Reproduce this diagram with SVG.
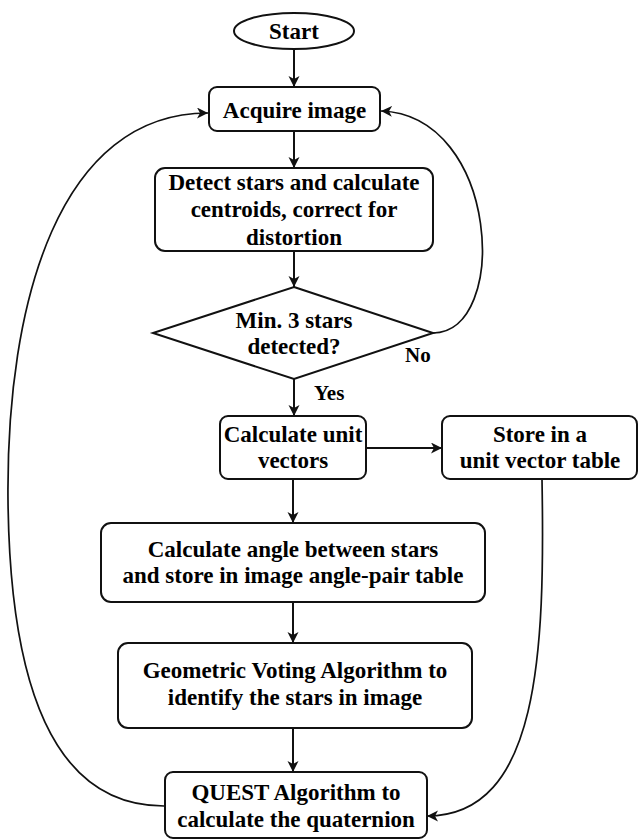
<svg xmlns="http://www.w3.org/2000/svg" width="638" height="839" viewBox="0 0 638 839">
<style>
.box{fill:#fff;stroke:#111;stroke-width:2}
.t{font-family:"Liberation Serif","Times New Roman",serif;font-weight:bold;font-size:23px;fill:#000;text-anchor:middle}
.lbl{font-family:"Liberation Serif","Times New Roman",serif;font-weight:bold;font-size:21px;fill:#000}
.c{fill:none;stroke:#111;stroke-width:2}
.cl{fill:none;stroke:#111;stroke-width:1.7}
</style>
<defs>
<marker id="ah" markerUnits="userSpaceOnUse" markerWidth="12" markerHeight="12" refX="11" refY="5.5" orient="auto">
<path d="M0,0 L11,5.5 L0,11 L3,5.5 z" fill="#111"/>
</marker>
</defs>
<g id="connectors">
<line class="c" x1="294" y1="49" x2="294" y2="87" marker-end="url(#ah)"/>
<line class="c" x1="294" y1="131" x2="294" y2="168" marker-end="url(#ah)"/>
<line class="c" x1="294" y1="251" x2="294" y2="287" marker-end="url(#ah)"/>
<line class="c" x1="294" y1="379" x2="294" y2="416" marker-end="url(#ah)"/>
<line class="c" x1="366" y1="448" x2="442" y2="448" marker-end="url(#ah)"/>
<line class="c" x1="293" y1="479" x2="293" y2="523" marker-end="url(#ah)"/>
<line class="c" x1="293" y1="602" x2="293" y2="643" marker-end="url(#ah)"/>
<line class="c" x1="293" y1="728" x2="293" y2="772" marker-end="url(#ah)"/>
<path class="cl" d="M433,333 C510,333 500,115 381,111" marker-end="url(#ah)"/>
<path class="cl" d="M164,806 C60,806 10,700 8,500 C6,300 60,113 208,113" marker-end="url(#ah)"/>
<path class="cl" d="M542,479 C545,650 540,816 427,816" marker-end="url(#ah)"/>
<text class="lbl" x="405" y="362">No</text>
<text class="lbl" x="314" y="400">Yes</text>
</g>
<g id="start">
<ellipse class="box" cx="294" cy="31" rx="60" ry="18"/>
<text class="t" x="294" y="39">Start</text>
</g>
<g id="acquire">
<rect class="box" x="209" y="87" width="171" height="44" rx="8"/>
<text class="t" x="294.5" y="118">Acquire image</text>
</g>
<g id="detect">
<rect class="box" x="155" y="168" width="278" height="83" rx="10"/>
<text class="t" x="294" y="190">Detect stars and calculate</text>
<text class="t" x="294" y="217">centroids, correct for</text>
<text class="t" x="294" y="245">distortion</text>
</g>
<g id="decision">
<polygon class="box" points="294,287 433,333 294,379 153,333"/>
<text class="t" x="294" y="328">Min. 3 stars</text>
<text class="t" x="294" y="354">detected?</text>
</g>
<g id="unitvec">
<rect class="box" x="220" y="416" width="146" height="63" rx="8"/>
<text class="t" x="293" y="442">Calculate unit</text>
<text class="t" x="293" y="468">vectors</text>
</g>
<g id="store">
<rect class="box" x="442" y="416" width="195" height="63" rx="8"/>
<text class="t" x="540" y="442">Store in a</text>
<text class="t" x="540" y="468">unit vector table</text>
</g>
<g id="angle">
<rect class="box" x="101" y="523" width="384" height="79" rx="10"/>
<text class="t" x="293" y="557">Calculate angle between stars</text>
<text class="t" x="293" y="583">and store in image angle-pair table</text>
</g>
<g id="voting">
<rect class="box" x="118" y="643" width="354" height="85" rx="10"/>
<text class="t" x="295" y="678">Geometric Voting Algorithm to</text>
<text class="t" x="295" y="705">identify the stars in image</text>
</g>
<g id="quest">
<rect class="box" x="165" y="772" width="262" height="66" rx="8"/>
<text class="t" x="296" y="800">QUEST Algorithm to</text>
<text class="t" x="296" y="827">calculate the quaternion</text>
</g>
</svg>
